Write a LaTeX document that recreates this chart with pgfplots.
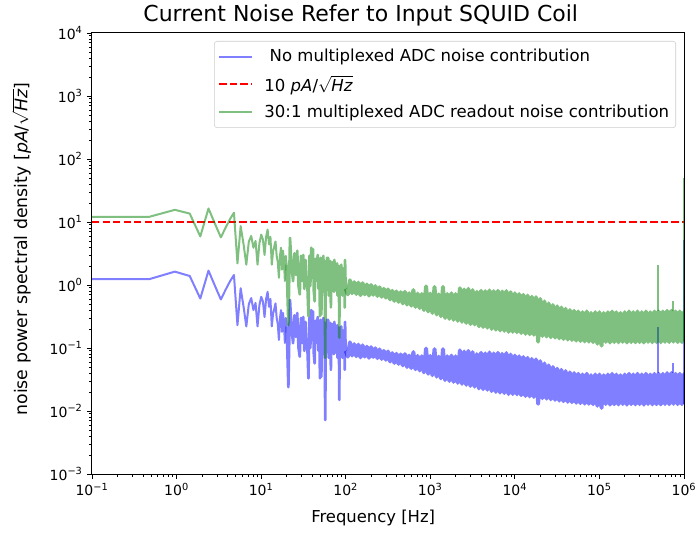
\documentclass[border=0pt]{standalone}
\usepackage{fontspec}
\setmainfont{DejaVu Sans}
\usepackage{pgfplots}
\usepackage{pgfplotstable}
\pgfplotsset{compat=1.18}

\definecolor{mplblue}{rgb}{0,0,1}
\definecolor{mplgreen}{rgb}{0,0.5,0}

% f [Hz], b = no multiplexing, g = 30:1 multiplexed
% low frequencies, 0.1 - 20 Hz
\pgfplotstableread{
f b g
0.1 1.24 12.1
0.477 1.24 12.1
0.954 1.63 15.6
1.431 1.39 13.6
1.908 0.61 5.9
2.385 1.69 16.4
2.862 0.95 9.2
3.339 0.59 5.7
3.816 0.85 8.2
4.293 1.15 11.2
4.770 1.44 14.0
5.247 0.23 2.2
5.724 0.89 8.6
6.201 0.45 4.4
6.678 0.22 2.1
7.155 0.50 4.9
7.632 0.62 6.0
8.109 0.40 3.9
8.586 0.52 5.0
9.063 0.22 2.1
9.540 0.48 4.6
10.02 0.65 6.3
10.49 0.55 5.3
10.97 0.31 3.0
11.45 0.60 5.8
11.93 0.78 7.6
12.40 0.45 4.4
12.88 0.60 5.8
13.36 0.22 2.1
13.83 0.35 3.4
14.31 0.42 4.1
14.79 0.51 4.9
15.26 0.30 2.9
15.74 0.24 2.3
16.22 0.134 1.30
16.70 0.30 2.9
17.17 0.40 3.9
17.65 0.18 1.75
18.13 0.36 3.5
18.60 0.25 2.4
19.08 0.12 1.16
19.56 0.30 2.9
20.03 0.22 2.1
}\psdlow

% dense region, 20 - 100 Hz
\pgfplotstableread{
f b g
20.03 0.22 2.1
20.99 0.024 0.23
21.94 0.58 5.6
22.90 0.20 1.94
23.85 0.119 1.15
24.80 0.33 3.2
25.76 0.15 1.45
26.71 0.36 3.5
27.67 0.10 0.97
28.62 0.073 0.71
29.57 0.30 2.9
30.53 0.12 1.16
31.48 0.31 3.0
32.44 0.09 0.87
33.39 0.26 2.5
34.34 0.11 1.07
35.30 0.093 0.90
36.25 0.033 0.32
37.21 0.30 2.9
38.16 0.10 0.97
39.11 0.40 3.9
40.07 0.14 1.36
41.02 0.38 3.7
41.98 0.08 0.78
42.93 0.057 0.55
43.88 0.27 2.6
44.84 0.12 1.16
45.79 0.25 2.4
46.75 0.31 3.0
47.70 0.09 0.87
48.65 0.22 2.1
49.61 0.033 0.32
50.56 0.28 2.7
51.52 0.035 0.34
52.47 0.24 2.3
53.42 0.08 0.78
54.38 0.30 2.9
55.33 0.11 1.07
56.29 0.25 2.4
57.24 0.0072 0.070
58.19 0.20 1.94
59.15 0.09 0.87
60.10 0.28 2.7
61.06 0.12 1.16
62.01 0.28 2.7
62.96 0.07 0.68
63.92 0.22 2.1
64.87 0.10 0.97
65.83 0.25 2.4
66.78 0.045 0.44
67.73 0.20 1.94
68.69 0.09 0.87
69.64 0.24 2.3
70.60 0.11 1.07
71.55 0.21 2.0
72.50 0.08 0.78
73.46 0.26 2.5
74.41 0.10 0.97
75.37 0.22 2.1
76.32 0.085 0.82
77.27 0.20 1.94
78.23 0.11 1.07
79.18 0.23 2.2
80.14 0.07 0.68
81.09 0.19 1.84
82.04 0.10 0.97
83.00 0.21 2.0
83.95 0.015 0.146
84.91 0.18 1.75
85.86 0.09 0.87
86.81 0.20 1.94
87.77 0.08 0.78
88.72 0.22 2.1
89.68 0.10 0.97
90.63 0.17 1.65
91.58 0.07 0.68
92.54 0.19 1.84
93.49 0.09 0.87
94.45 0.16 1.55
95.40 0.10 0.97
96.35 0.18 1.75
97.31 0.045 0.44
98.26 0.26 2.5
99.22 0.134 1.30
100.17 0.09 0.87
}\psdmid

% averaged band, 100 Hz - 1 MHz
\pgfplotstableread{
f b g
100.17 0.09 0.87
105.9 0.073 0.71
112.2 0.123 1.19
118.9 0.076 0.74
125.9 0.115 1.11
133.4 0.074 0.72
141.3 0.113 1.09
149.6 0.071 0.69
158.5 0.110 1.07
167.9 0.073 0.71
177.8 0.105 1.02
188.4 0.070 0.68
199.5 0.103 1.00
211.3 0.072 0.70
223.9 0.099 0.96
237.1 0.069 0.67
251.2 0.095 0.92
266.1 0.067 0.65
281.8 0.090 0.87
298.5 0.065 0.63
316.2 0.088 0.85
335.0 0.061 0.59
354.8 0.083 0.81
375.8 0.058 0.56
398.1 0.081 0.79
421.7 0.056 0.54
446.7 0.079 0.77
473.2 0.053 0.51
501.2 0.080 0.78
530.9 0.050 0.49
562.3 0.076 0.74
595.7 0.048 0.47
631.0 0.086 0.83
668.3 0.046 0.45
707.9 0.075 0.73
749.9 0.044 0.43
794.3 0.074 0.72
841.4 0.041 0.40
891.3 0.098 0.95
944.1 0.039 0.38
1000 0.075 0.73
1059 0.037 0.36
1122 0.096 0.93
1189 0.035 0.34
1259 0.073 0.71
1334 0.033 0.32
1413 0.096 0.93
1496 0.031 0.30
1585 0.074 0.72
1679 0.030 0.29
1778 0.076 0.74
1884 0.029 0.28
1995 0.074 0.72
2113 0.028 0.27
2239 0.092 0.89
2371 0.027 0.26
2512 0.088 0.85
2661 0.026 0.25
2818 0.090 0.87
2985 0.025 0.24
3162 0.086 0.83
3350 0.0243 0.236
3548 0.080 0.78
3758 0.0228 0.221
3981 0.084 0.81
4217 0.0222 0.215
4467 0.082 0.80
4732 0.0217 0.210
5012 0.085 0.82
5309 0.0207 0.201
5623 0.082 0.80
5957 0.0201 0.195
6310 0.084 0.81
6683 0.0196 0.190
7079 0.081 0.79
7499 0.0193 0.187
7943 0.083 0.80
8414 0.0186 0.180
8913 0.079 0.77
9441 0.0186 0.180
10000 0.076 0.74
10590 0.0184 0.178
11220 0.074 0.72
11890 0.0178 0.173
12590 0.072 0.70
13340 0.0173 0.168
14130 0.070 0.68
14960 0.0170 0.165
15850 0.067 0.65
16790 0.0167 0.162
17780 0.066 0.64
18840 0.0130 0.126
19950 0.062 0.60
21130 0.0160 0.155
22390 0.057 0.55
23710 0.0157 0.152
25120 0.053 0.51
26610 0.0153 0.148
28180 0.050 0.48
29850 0.0150 0.146
31620 0.047 0.46
33500 0.0146 0.142
35480 0.045 0.44
37580 0.0143 0.139
39810 0.043 0.42
42170 0.0140 0.136
44670 0.041 0.40
47320 0.0138 0.134
50120 0.040 0.39
53090 0.0135 0.131
56230 0.039 0.38
59570 0.0133 0.129
63100 0.038 0.37
66830 0.0131 0.127
70790 0.039 0.38
74990 0.0130 0.126
79430 0.037 0.36
84140 0.0128 0.124
89130 0.038 0.37
94410 0.0121 0.117
100000 0.038 0.37
105900 0.0112 0.109
112200 0.037 0.36
118900 0.0129 0.125
125900 0.038 0.37
133400 0.0126 0.122
141300 0.039 0.38
149600 0.0128 0.124
158500 0.038 0.37
167900 0.0127 0.123
177800 0.037 0.36
188400 0.0129 0.125
199500 0.038 0.37
211300 0.0126 0.122
223900 0.039 0.38
237100 0.0128 0.124
251200 0.038 0.37
266100 0.0127 0.123
281800 0.039 0.38
298500 0.0128 0.124
316200 0.038 0.37
335000 0.0126 0.122
354800 0.039 0.38
375800 0.0129 0.125
398100 0.038 0.37
421700 0.0127 0.123
446700 0.039 0.38
473200 0.0128 0.124
501200 0.039 0.38
530900 0.0127 0.123
562300 0.039 0.38
595700 0.0129 0.125
631000 0.040 0.39
668300 0.0128 0.124
707900 0.040 0.39
749900 0.0130 0.126
794300 0.039 0.38
841400 0.0128 0.124
891300 0.039 0.38
944100 0.0128 0.124
990000 0.038 0.37
995000 0.0130 0.126
}\psdband

% narrow lines: two tones and the last bin
\pgfplotstableread{
f b g
490000 0.040 0.39
490000 0.213 2.07
nan nan nan
745000 0.040 0.39
745000 0.058 0.56
nan nan nan
1000000 0.013 0.13
1000000 5.2 50
}\psdspikes

\begin{document}
\begin{tikzpicture}
\begin{axis}[
    name=ax,
    scale only axis,
    width=444pt, height=330.75pt,
    xmode=log, ymode=log,
    xmin=0.1, xmax=1e6, ymin=1e-3, ymax=1e4,
    xtick={0.1,1,10,100,1000,10000,100000,1000000},
    xticklabels={10\textsuperscript{−1},10\textsuperscript{0},10\textsuperscript{1},10\textsuperscript{2},10\textsuperscript{3},10\textsuperscript{4},10\textsuperscript{5},10\textsuperscript{6}},
    ytick={0.001,0.01,0.1,1,10,100,1000,10000},
    yticklabels={10\textsuperscript{−3},10\textsuperscript{−2},10\textsuperscript{−1},10\textsuperscript{0},10\textsuperscript{1},10\textsuperscript{2},10\textsuperscript{3},10\textsuperscript{4}},
    tick pos=left,
    tick align=outside,
    major tick length=3.5pt,
    minor tick length=2pt,
    every tick/.style={black, line width=0.6pt},
    axis line style={line width=0.75pt},
    axis on top,
    unbounded coords=jump,
    tick label style={font=\fontsize{10.5}{12}\selectfont},
    xlabel={Frequency [Hz]},
    ylabel={noise power spectral density [\textit{pA}/$\sqrt{\mbox{\textit{Hz}}}$]},
    xlabel style={at={(axis description cs:0.475,-0.0998)}, anchor=center, font=\fontsize{12.3}{14}\selectfont},
    ylabel style={at={(axis description cs:-0.109,0.51)}, anchor=base, font=\fontsize{13}{15}\selectfont},
    title={Current Noise Refer to Input SQUID Coil},
    title style={at={(axis description cs:0.454,1)}, anchor=center, yshift=7.5pt, font=\fontsize{16.5}{19}\selectfont},
    legend cell align=left,
    legend image code/.code={\draw[#1] (0pt,0pt) -- (24.75pt,0pt); \path (31pt,0pt);},
    legend style={at={(1,1)}, anchor=north east, xshift=-6pt, yshift=-6pt,
        draw=black!20, rounded corners=2pt, fill=white,
        font=\fontsize{12.4}{15}\selectfont, row sep=5pt,
        inner xsep=3pt, inner ysep=4pt},
    every axis plot/.append style={line join=round},
]
\addplot[mplblue, draw opacity=0.5, line width=1.5pt] table[x=f, y=b] {\psdlow};
\addlegendentry{\hspace{0.32em}No multiplexed ADC noise contribution}
\addplot[red, line width=1.5pt, dash pattern=on 5.5pt off 2.4pt] coordinates {(0.1,10) (1000000,10)};
\addlegendentry{10 \textit{pA}/$\sqrt{\mbox{\textit{Hz}}}$}
\addplot[mplgreen, draw opacity=0.5, line width=1.5pt] table[x=f, y=g] {\psdlow};
\addlegendentry{30:1 multiplexed ADC readout noise contribution}

\addplot[forget plot, mplblue, draw opacity=0.5, line width=2pt] table[x=f, y=b] {\psdmid};
\addplot[forget plot, mplblue, draw opacity=0.5, line width=3pt] table[x=f, y=b] {\psdband};
\addplot[forget plot, mplblue, draw opacity=0.5, line width=1.5pt] table[x=f, y=b] {\psdspikes};
\addplot[forget plot, mplgreen, draw opacity=0.5, line width=2pt] table[x=f, y=g] {\psdmid};
\addplot[forget plot, mplgreen, draw opacity=0.5, line width=3pt] table[x=f, y=g] {\psdband};
\addplot[forget plot, mplgreen, draw opacity=0.5, line width=1.5pt] table[x=f, y=g] {\psdspikes};
\end{axis}
\pgfresetboundingbox
\path ([xshift=-69pt,yshift=-45pt]ax.south west) rectangle ([xshift=10.5pt,yshift=24.75pt]ax.north east);
\end{tikzpicture}
\end{document}
